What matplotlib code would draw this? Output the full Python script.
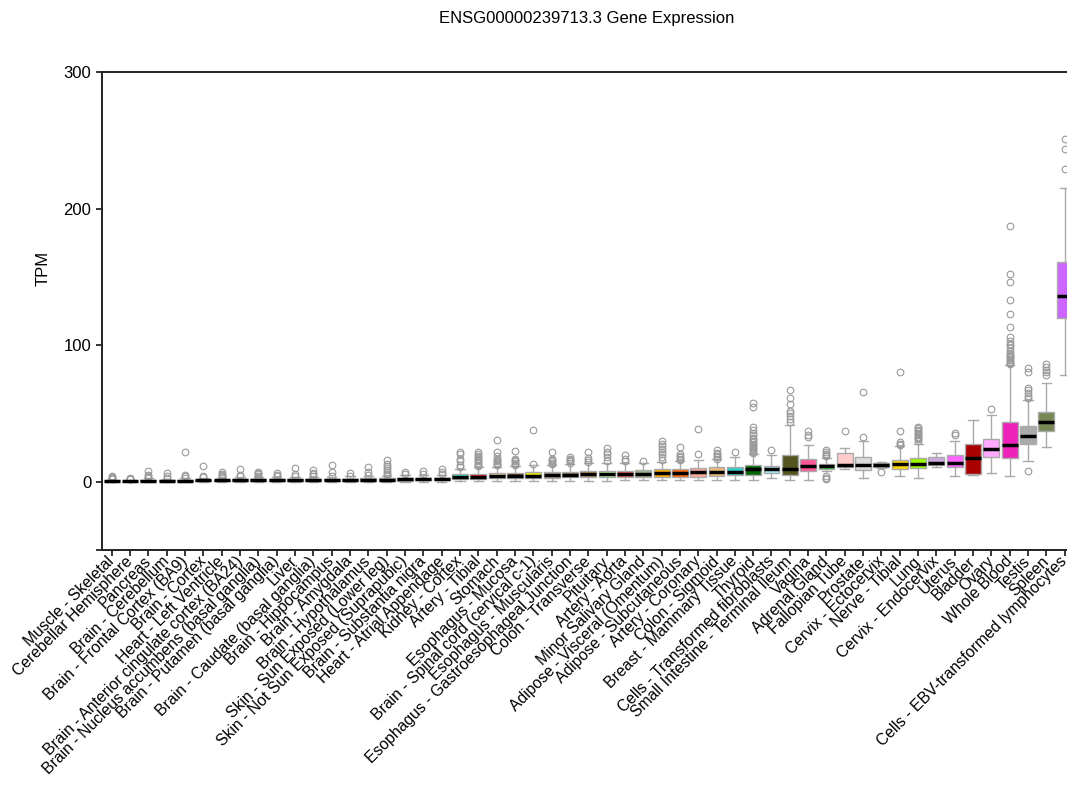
import matplotlib
matplotlib.use("Agg")
import matplotlib.pyplot as plt

plt.rcParams['font.family'] = ['Liberation Sans', 'DejaVu Sans']

tissues = [
    "Muscle - Skeletal", "Cerebellar Hemisphere", "Pancreas", "Brain - Cerebellum",
    "Brain - Frontal Cortex (BA9)", "Brain - Cortex", "Heart - Left Ventricle",
    "Brain - Anterior cingulate cortex (BA24)", "Brain - Nucleus accumbens (basal ganglia)",
    "Brain - Putamen (basal ganglia)", "Liver", "Brain - Caudate (basal ganglia)",
    "Brain - Hippocampus", "Brain - Amygdala", "Brain - Hypothalamus",
    "Skin - Sun Exposed (Lower leg)", "Skin - Not Sun Exposed (Suprapubic)",
    "Brain - Substantia nigra", "Heart - Atrial Appendage", "Kidney - Cortex",
    "Artery - Tibial", "Stomach", "Esophagus - Mucosa", "Brain - Spinal cord (cervical c-1)",
    "Esophagus - Muscularis", "Esophagus - Gastroesophageal Junction", "Colon - Transverse",
    "Pituitary", "Artery - Aorta", "Minor Salivary Gland", "Adipose - Visceral (Omentum)",
    "Adipose - Subcutaneous", "Artery - Coronary", "Colon - Sigmoid",
    "Breast - Mammary Tissue", "Thyroid", "Cells - Transformed fibroblasts",
    "Small Intestine - Terminal Ileum", "Vagina", "Adrenal Gland", "Fallopian Tube",
    "Prostate", "Cervix - Ectocervix", "Nerve - Tibial", "Lung", "Cervix - Endocervix",
    "Uterus", "Bladder", "Ovary", "Whole Blood", "Testis", "Spleen",
    "Cells - EBV-transformed lymphocytes",
]

colors = [
    "#AAAAFF", "#EEEE00", "#995522", "#EEEE00", "#EEEE00", "#EEEE00", "#660099",
    "#EEEE00", "#EEEE00", "#EEEE00", "#AABB66", "#EEEE00", "#EEEE00", "#EEEE00",
    "#EEEE00", "#7777FF", "#0000FF", "#EEEE00", "#9900FF", "#22FFDD",
    "#FF0000", "#FFDD99", "#552200", "#EEEE00", "#BB9988", "#8B7355", "#CC9955",
    "#AAFF99", "#FF5555", "#99BB88", "#FFAA00", "#FF6600", "#FFAA99", "#EEBB77",
    "#33CCCC", "#006600", "#AAEEFF", "#555522", "#FF5599", "#33DD33", "#FFCCCC",
    "#DDDDDD", "#FFCCCC", "#FFD700", "#99FF00", "#CCAADD", "#FF66FF", "#AA0000",
    "#FFAAFF", "#EE22BB", "#AAAAAA", "#778855", "#CC66FF",
]

q1 = [0.2, 0.3, 0.3, 0.4, 0.5, 0.5, 0.5, 0.6, 0.6, 0.6, 0.6, 0.7, 0.7, 0.7, 0.8, 0.8,
      0.8, 1.0, 1.0, 2.0, 2.2, 2.5, 2.5, 2.8, 3.0, 3.2, 3.3, 3.5, 3.5, 3.8, 3.8, 3.8,
      3.5, 4.0, 4.6, 5.0, 6.3, 5.1, 7.6, 9.3, 10.7, 8.3, 10.5, 9.3, 9.8, 12.4, 10.7,
      5.9, 17.8, 17.5, 27.8, 37.3, 119.7]
med = [0.4, 0.5, 0.7, 0.8, 0.9, 1.0, 1.0, 1.1, 1.2, 1.2, 1.3, 1.4, 1.4, 1.5, 1.6, 1.6,
       1.7, 1.9, 2.0, 3.5, 3.8, 4.0, 4.3, 4.5, 4.8, 5.2, 5.4, 5.8, 5.8, 6.0, 6.5, 6.5,
       6.8, 7.0, 7.5, 9.0, 9.3, 9.5, 11.2, 11.2, 12.0, 12.0, 12.0, 13.0, 13.0, 13.7,
       14.0, 17.6, 24.0, 26.6, 33.6, 44.0, 136.3]
q3 = [0.8, 0.8, 1.3, 1.3, 1.4, 1.5, 1.6, 1.7, 1.8, 1.9, 2.0, 2.1, 2.1, 2.2, 2.4, 2.6,
      2.7, 2.9, 3.0, 6.0, 5.8, 6.3, 6.5, 6.8, 7.0, 7.5, 7.8, 8.2, 8.0, 8.5, 9.5, 9.5,
      10.0, 10.5, 10.7, 12.5, 11.7, 19.7, 16.8, 13.2, 21.0, 17.8, 13.7, 16.0, 17.6,
      17.8, 19.3, 27.8, 31.2, 44.0, 41.0, 51.4, 161.0]
whis_lo = [0.0, 0.05, 0.0, 0.05, 0.1, 0.1, 0.1, 0.1, 0.1, 0.1, 0.1, 0.1, 0.1, 0.1, 0.1,
           0.1, 0.1, 0.1, 0.1, 0.3, 0.5, 0.5, 0.5, 0.8, 0.8, 0.8, 0.8, 0.8, 1.0, 1.0,
           1.0, 1.0, 1.0, 1.0, 1.2, 1.5, 2.7, 1.0, 1.5, 7.6, 9.3, 2.7, 10.2, 4.0, 2.7,
           11.0, 4.0, 4.6, 6.3, 3.9, 15.4, 25.6, 78.3]
whis_hi = [1.6, 1.4, 2.5, 2.3, 2.6, 2.8, 3.0, 3.2, 3.3, 3.5, 3.6, 3.8, 3.8, 4.0, 4.2,
           4.5, 4.6, 5.0, 5.2, 9.5, 10.5, 11.0, 11.5, 12.0, 12.5, 13.0, 13.5, 14.0,
           13.5, 13.5, 14.5, 15.0, 16.0, 16.5, 18.0, 20.0, 19.7, 41.7, 26.6, 17.3, 24.6,
           30.0, 14.5, 26.0, 28.0, 21.0, 30.0, 45.4, 49.0, 85.6, 60.0, 72.6, 214.8]
outliers = [
    [2, 2.5, 3, 3.5, 4], [1.8, 2.3, 3], [3, 4, 5, 8], [3, 4, 6.5], [3, 4, 5, 22],
    [3.5, 4.5, 11.5], [3.5, 4, 5, 6, 7], [4, 5, 9.5], [3.8, 4.5, 5.5, 6.5, 7.5],
    [4, 5, 6.5], [4.5, 6, 10], [4.3, 5.5, 6.5, 8.5], [4.5, 7, 12.5], [4.5, 6.5],
    [5, 7.5, 11], [5, 6, 7, 8.5, 10, 11.5, 13, 16], [5.5, 7], [6, 8], [6, 7.5, 9],
    [11, 12.5, 15, 17, 20, 22],
    [11.5, 12.5, 13.5, 15, 16, 17, 18, 19, 20, 21.5],
    [12, 13, 14, 15, 16, 17, 19, 22, 30.5],
    [12, 13, 14, 15, 16, 17, 22.5],
    [13, 38],
    [13, 14, 15, 16, 17, 22],
    [14, 15, 16, 17, 18],
    [14.5, 16, 17.5, 22],
    [15.5, 18, 20, 22, 25],
    [15, 17, 19.5],
    [15],
    [16, 18, 20, 22, 24, 26, 28, 30],
    [16, 17, 18, 19, 20, 25.5],
    [20, 38.5],
    [17, 18, 19, 20, 21, 23],
    [21.5],
    [21, 22, 23, 24, 25, 26, 27, 28, 29, 30, 31, 32, 34, 36, 38, 40, 55, 58],
    [23],
    [44, 46, 48, 50, 52, 57, 61, 67],
    [32.7, 34.5, 36.8],
    [2, 3, 4, 18.5, 19.5, 20.5, 21.5, 23],
    [36.8],
    [33, 66],
    [6.8],
    [27, 28, 29, 37, 80],
    [29.5, 31, 32, 33, 34, 35, 36, 37, 38, 39, 40],
    [],
    [34.4, 35.6],
    [],
    [53],
    [86, 87, 88, 89, 90, 91, 92, 93, 94, 96, 98, 100, 101, 103, 106, 113, 123, 133,
     146, 152, 187],
    [8, 61, 63, 65, 67, 69, 80.5, 83],
    [78, 80, 82, 84, 86],
    [228.7, 243.4, 250.7],
]

stats = []
for i in range(len(tissues)):
    stats.append(dict(med=med[i], q1=q1[i], q3=q3[i], whislo=whis_lo[i],
                      whishi=whis_hi[i], fliers=outliers[i], label=tissues[i]))

fig = plt.figure(figsize=(10.67, 7.96), dpi=100)
ax = fig.add_axes([0.0953, 0.309, 0.912, 0.6005])

grey = "#aaaaaa"
bp = ax.bxp(stats, positions=range(len(tissues)), widths=0.87, capwidths=0.5,
            patch_artist=True,
            boxprops=dict(edgecolor=grey, linewidth=1.0),
            whiskerprops=dict(color=grey, linewidth=1.0),
            capprops=dict(color=grey, linewidth=1.0),
            medianprops=dict(color="black", linewidth=2.5),
            flierprops=dict(marker="o", markerfacecolor="none",
                            markeredgecolor="#999999", markersize=4.8,
                            markeredgewidth=0.8))
for patch, c in zip(bp["boxes"], colors):
    patch.set_facecolor(c)

ax.set_xlim(-0.55, 52.55)
ax.set_ylim(-50, 300)
ax.set_yticks([0, 100, 200, 300])
ax.set_yticks([-50], minor=True)
ax.tick_params(axis="y", which="both", direction="out", length=4.5, width=1.1,
               labelsize=12, pad=3)
ax.tick_params(axis="x", direction="out", length=4.5, width=1.1, pad=2)
ax.set_xticks(range(len(tissues)))
ax.set_xticklabels(tissues, rotation=45, ha="right", va="center",
                   rotation_mode="anchor", fontsize=11.3)
for side in ["left", "top", "bottom"]:
    ax.spines[side].set_linewidth(1.4)
    ax.spines[side].set_color("#222222")
ax.spines["right"].set_visible(False)

ax.set_ylabel("TPM", fontsize=12)
ax.yaxis.set_label_coords(-0.052, 0.59)
fig.text(0.55, 1 - 18 / 796, "ENSG00000239713.3 Gene Expression",
         ha="center", va="center", fontsize=12)

fig.savefig("out.png", dpi=100)
